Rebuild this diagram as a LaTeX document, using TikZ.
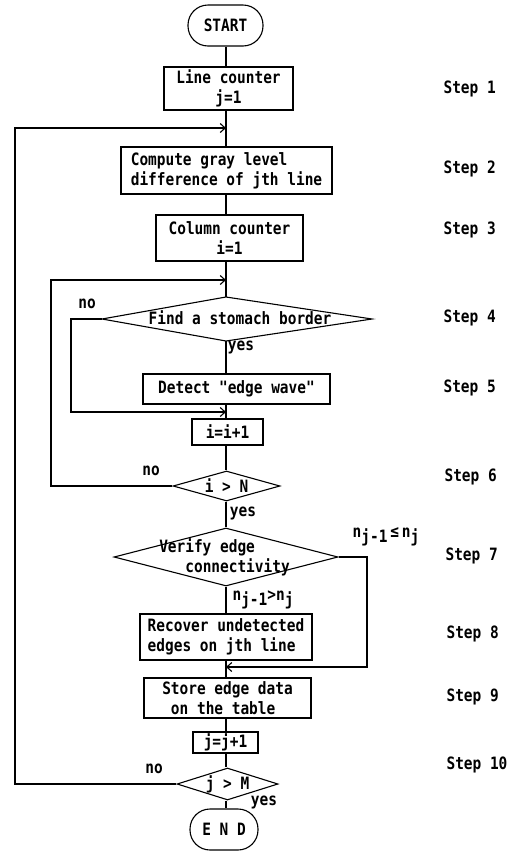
\documentclass[tikz,border=0pt]{standalone}
\usepackage{fontspec}
\newfontfamily\monofam{DejaVu Sans Mono}[FakeStretch=0.85]
\usetikzlibrary{arrows.meta,shapes.geometric}
\newcommand{\lowsub}[1]{\raisebox{-5pt}{#1}}
\begin{document}
\begin{tikzpicture}[x=1pt,y=-1pt,line width=1.1pt,
  txt/.style={font=\monofam\fontsize{17}{20}\selectfont\bfseries, inner sep=0pt},
  box/.style={txt, draw, rectangle, align=center},
  term/.style={txt, draw, rectangle, rounded corners=20pt},
  dec/.style={txt, draw, diamond, aspect=3},
  steplbl/.style={txt, anchor=west},
  arr/.style={-{Straight Barb[length=5pt,width=9pt]}}]
\useasboundingbox (0,0) rectangle (516,852);

% nodes
\node[term, minimum width=75pt, minimum height=41pt] (start) at (225.5,25.5) {START};
\node[box, minimum width=129pt, minimum height=43pt] (l1) at (228.5,88.5) {Line counter\\j=1};
\node[box, align=left, minimum width=211pt, minimum height=47pt] (comp) at (226.5,170.5) {Compute gray level\\difference of jth line};
\node[box, minimum width=147pt, minimum height=46pt] (col) at (229.5,238) {Column counter\\i=1};
\coordinate (fL) at (102,319);
\coordinate (fT) at (226,297);
\coordinate (fR) at (372,319);
\coordinate (fB) at (226,341);
\draw (fL) -- (fT) -- (fR) -- (fB) -- cycle;
\node[txt] (ftxt) at (240,318) {Find a stomach border};
\node[box, minimum width=187pt, minimum height=30pt] (det) at (236.5,389) {Detect "edge wave"};
\node[box, minimum width=71pt, minimum height=26pt] (inci) at (227.5,432) {i=i+1};
\node[dec, minimum width=107pt, minimum height=30pt] (iN) at (226.5,486) {i > N};
\node[dec, minimum width=224pt, minimum height=58pt] (ver) at (226,557) {};
\node[txt, align=left] (vtxt) at (224.5,557) {Verify edge\\\phantom{xxx}connectivity};
\node[box, align=left, minimum width=172pt, minimum height=46pt] (rec) at (226,637) {Recover undetected\\edges on jth line};
\node[box, align=left, minimum width=167pt, minimum height=40pt] (sto) at (227.5,698) {Store edge data\\\phantom{x}on the table};
\node[box, minimum width=65pt, minimum height=21pt] (incj) at (225.5,742.5) {j=j+1};
\node[dec, minimum width=101pt, minimum height=32pt] (jM) at (227.5,784) {j > M};
\node[term, minimum width=68pt, minimum height=41pt] (end) at (224,829.5) {E N D};

% step labels
\node[steplbl] (s1) at (443,89) {Step 1};
\node[steplbl] (s2) at (443,169) {Step 2};
\node[steplbl] (s3) at (443,230) {Step 3};
\node[steplbl] (s4) at (443,318) {Step 4};
\node[steplbl] (s5) at (443,388) {Step 5};
\node[steplbl] (s6) at (444,477) {Step 6};
\node[steplbl] (s7) at (445,556) {Step 7};
\node[steplbl] (s8) at (446,634) {Step 8};
\node[steplbl] (s9) at (446,697) {Step 9};
\node[steplbl] (s10) at (446,765) {Step 10};

% spine
\coordinate (sp) at (226,0);
\draw (start.south -| sp) -- (l1.north -| sp);
\draw (l1.south -| sp) -- (comp.north -| sp);
\draw (comp.south -| sp) -- (col.north -| sp);
\draw (col.south -| sp) -- (fT);
\draw (fB) -- (det.north -| sp);
\draw (det.south -| sp) -- (inci.north -| sp);
\draw (inci.south -| sp) -- (iN.north -| sp);
\draw (iN.south -| sp) -- (ver.north -| sp);
\draw (ver.south -| sp) -- (rec.north -| sp);
\draw (rec.south -| sp) -- (sto.north -| sp);
\draw (sto.south -| sp) -- (incj.north -| sp);
\draw (incj.south -| sp) -- (jM.north -| sp);
\draw (jM.south -| sp) -- (end.north -| sp);

% loops
\coordinate (m1) at (226,128);
\coordinate (m2) at (226,280);
\coordinate (m3) at (226,412);
\coordinate (m4) at (226,667);
\coordinate (c1) at (15,128);
\coordinate (c2) at (51,280);
\coordinate (c3) at (71,412);
\coordinate (c4) at (367,667);
\draw[arr] (jM.west) -| (c1) -- (m1);
\draw[arr] (iN.west) -| (c2) -- (m2);
\draw[arr] (fL) -| (c3) -- (m3);
\draw[arr] (ver.east) -| (c4) -- (m4);

% branch labels
\node[txt] (no1) at (87,304) {no};
\node[txt] (yes1) at (241,347) {yes};
\node[txt] (no2) at (151,471) {no};
\node[txt] (yes2) at (243,513) {yes};
\node[txt] (nle) at (386,537) {n\lowsub{j-1}\,≤\,n\lowsub{j}};
\node[txt] (ngt) at (263,600) {n\lowsub{j-1}>n\lowsub{j}};
\node[txt] (no3) at (154,769) {no};
\node[txt] (yes3) at (264,802) {yes};
\end{tikzpicture}
\end{document}
